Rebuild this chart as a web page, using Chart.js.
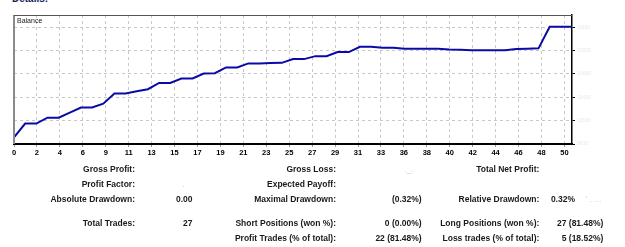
<!DOCTYPE html>
<html>
<head>
<meta charset="utf-8">
<script src="https://cdn.jsdelivr.net/npm/chart.js@4"></script>
<style>
  body { margin: 0; background: #fff; width: 625px; height: 247px; overflow: hidden; position: relative;
         font-family: "Liberation Sans", Arial, sans-serif; }
  #c { position: absolute; left: 0; top: 0; }
  .t { position: absolute; font-weight: bold; font-size: 8.5px; line-height: 10px; color: #1a1a1a; white-space: nowrap; }
  .faint { color: #d4d0cc; font-weight: normal; }
</style>
</head>
<body>
<div class="t" style="left:12px;top:-6px;font-size:10px;color:#14205a">Details:</div>
<canvas id="c" width="625" height="165"></canvas>
<div style="position:absolute;left:17px;top:16px;font-size:7px;line-height:9px;color:#222">Balance</div>
<div id="stats"></div>

<script>
// balance curve, one value per deal
const tradeNo = [0,1,2,3,4,5,6,7,8,9,10,11,12,13,14,15,16,17,18,19,20,21,22,23,24,25,
                 26,27,28,29,30,31,32,33,34,35,36,37,38,39,40,41,42,43,44,45,46,47,48,49,50];
const balance = [10000,10148,10148,10212,10212,10266,10320,10320,10362,10470,10470,10494,10516,
                 10583,10583,10631,10631,10684,10688,10749,10749,10792,10792,10796,10798,10838,
                 10838,10870,10870,10913,10913,10970,10970,10959,10959,10950,10948,10948,10948,
                 10942,10939,10934,10934,10934,10934,10945,10948,10953,11184,11184,11184];

const xTickLabels = [0,2,4,6,9,11,13,15,17,19,21,23,25,27,29,31,33,36,38,40,42,44,46,48,50];
const yTickValues = [9930,10180,10430,10680,10930,11180];

// report table: [label, value] per column, row by row
const col1 = [['Gross Profit:', ''], ['Profit Factor:', '.'], ['Absolute Drawdown:', '0.00'], ['Total Trades:', '27'], null];
const col2 = [['Gross Loss:', '._.'], ['Expected Payoff:', ''], ['Maximal Drawdown:', '(0.32%)'],
              ['Short Positions (won %):', '0 (0.00%)'], ['Profit Trades (% of total):', '22 (81.48%)']];
const col3 = [['Total Net Profit:', ''], null, ['Relative Drawdown:', '0.32%'],
              ['Long Positions (won %):', '27 (81.48%)'], ['Loss trades (% of total):', '5 (18.52%)']];

const xTickStep = 2.055;

const frame = {
  id: 'frame',
  afterDraw(chart) {
    const { ctx, chartArea: a } = chart;
    ctx.save();
    ctx.strokeStyle = '#8a8a8a';
    ctx.lineWidth = 2;
    ctx.beginPath(); ctx.moveTo(a.left, a.bottom); ctx.lineTo(a.left, a.top); ctx.stroke();
    ctx.strokeStyle = '#555';
    ctx.lineWidth = 1;
    ctx.beginPath(); ctx.moveTo(a.left, a.top + 0.5); ctx.lineTo(a.right, a.top + 0.5); ctx.stroke();
    ctx.restore();
  }
};

new Chart(document.getElementById('c').getContext('2d'), {
  type: 'line',
  data: {
    datasets: [{
      data: tradeNo.map((x, i) => ({ x, y: balance[i] })),
      borderColor: '#0a0aa8',
      borderWidth: 2,
      pointRadius: 0,
      tension: 0,
      fill: false
    }]
  },
  options: {
    responsive: false,
    animation: false,
    events: [],
    layout: { padding: { left: 14, top: 15, right: 0, bottom: 0 } },
    plugins: { legend: { display: false }, tooltip: { enabled: false } },
    scales: {
      x: {
        type: 'linear', min: 0, max: 50,
        afterBuildTicks: s => { s.ticks = xTickLabels.map((l, i) => ({ value: i * xTickStep })); },
        afterFit: s => { s.height = 21; },
        ticks: {
          autoSkip: false, maxRotation: 0, padding: 1,
          color: '#000', font: { family: 'Liberation Sans', size: 7.5, weight: 'bold' },
          callback: (v, i) => xTickLabels[i]
        },
        grid: { color: '#c8c8c8', tickLength: 3, tickColor: '#999', tickBorderDash: [] },
        border: { display: true, color: '#000', width: 2, dash: [3, 3] }
      },
      y: {
        position: 'right', min: 9930, max: 11310,
        afterBuildTicks: s => { s.ticks = yTickValues.map(v => ({ value: v })); },
        afterFit: s => { s.width = 53; },
        ticks: {
          padding: 2, color: '#ece8e4',
          font: { family: 'Liberation Sans', size: 5 },
          callback: v => v.toFixed(0)
        },
        grid: { color: '#c8c8c8', tickLength: 3, tickColor: '#000', tickBorderDash: [] },
        border: { display: true, color: '#000', width: 1.5, dash: [3, 3] }
      }
    }
  },
  plugins: [frame]
});

// stats table
const rowY = [169, 184, 199, 222.7, 238];
const cols = [[col1, 135, 192.5], [col2, 336, 421.7], [col3, 539.3, 603.3]];
const stats = document.getElementById('stats');
function put(text, right, y, cls) {
  const d = document.createElement('div');
  d.className = 't' + (cls ? ' ' + cls : '');
  d.style.right = (625 - right) + 'px';
  d.style.top = (y - 5) + 'px';
  d.textContent = text;
  stats.appendChild(d);
}
cols.forEach(([rows, lx, vx]) => {
  rows.forEach((r, i) => {
    if (!r) return;
    put(r[0], lx, rowY[i]);
    if (r[1] === '.' || r[1] === '._.') put(r[1], vx - 8, rowY[i], 'faint');
    else if (r[1] === '0.32%') { put(r[1], 575, rowY[i]); put("' . ...", vx - 2, rowY[i], 'faint'); }
    else if (r[1]) put(r[1], vx, rowY[i]);
  });
});
</script>
</body>
</html>
